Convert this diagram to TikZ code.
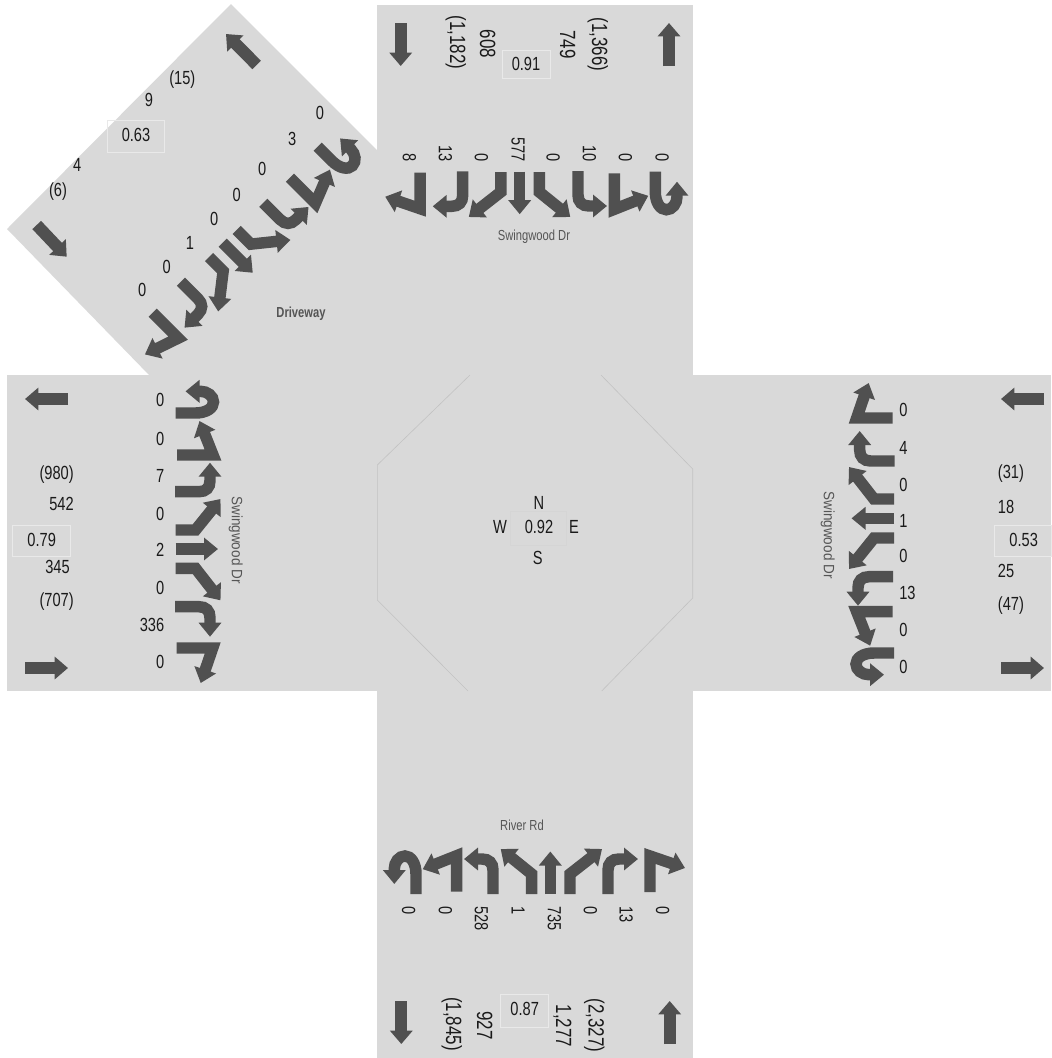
\documentclass[tikz,border=0pt]{standalone}
\usepackage{fontspec}
\setmainfont{Liberation Sans}
\newfontfamily\cond[FakeStretch=0.77]{Liberation Sans}
\newfontfamily\condlab[FakeStretch=0.9]{Liberation Sans}
\usetikzlibrary{arrows.meta}
\definecolor{legbg}{HTML}{D9D9D9}
\definecolor{arrowgray}{HTML}{505050}
\definecolor{txt}{HTML}{1A1A1A}
\definecolor{boxline}{HTML}{E9E9E9}
\definecolor{octline}{HTML}{C2C2C2}
\definecolor{streettxt}{HTML}{555555}
\tikzset{
  mv/.style={draw=arrowgray,line width=8.6pt,line join=miter,miter limit=10,
    -{Triangle[length=10.5pt,width=16.5pt]}},
  big/.style={draw=arrowgray,line width=9pt,-{Triangle[length=10pt,width=16.5pt]}},
  num/.style={inner sep=0pt,text=txt,text height=10.2pt,text depth=0pt,font=\fontsize{14.25pt}{15pt}\cond},
  lnum/.style={inner sep=0pt,text=txt,text height=11.8pt,text depth=0pt,font=\fontsize{16.5pt}{17pt}\cond},
  street/.style={inner sep=0pt,text=streettxt,font=\fontsize{10.9pt}{11pt}\cond},
  vstreet/.style={inner sep=0pt,text=streettxt,rotate=-90,font=\fontsize{11.25pt}{12pt}\condlab},
  valbox/.style={draw=boxline,line width=.6pt},
  octedge/.style={draw=octline,line width=.45pt},
  mvhardleft/.pic={\path[mv] (0,0) -- (0,36) -- (-35,24);},
  mvleft/.pic={\path[mv] (0,0) -- (0,24) .. controls (0,31) and (-4,35) .. (-11,35) -- (-30,35);},
  mvbearleft/.pic={\path[mv] (0,0) -- (0,20) -- (-32,45);},
  mvthrough/.pic={\path[mv] (0,0) -- (0,42.5);},
  mvbearright/.pic={\path[mv] (0,0) -- (0,20) -- (31,45);},
  mvright/.pic={\path[mv] (0,0) -- (0,24) .. controls (0,31) and (4,35) .. (11,35) -- (29,35);},
  mvhardright/.pic={\path[mv] (0,0) -- (0,36) -- (34,22.5);},
  mvuturn/.pic={\path[mv] (0,0) -- (0,20) .. controls (0,31) and (5,38) .. (11,38) .. controls (17,38) and (21.7,32) .. (21.7,25) -- (21.7,10);},
}
\begin{document}
\begin{tikzpicture}[x=0.75pt,y=-0.75pt]
\useasboundingbox (0,0) rectangle (1051,1058);
% legs
\fill[legbg] (377,5) rectangle (693,376);
\fill[legbg] (377,691) rectangle (693,1058);
\fill[legbg] (7,375) rectangle (378,691);
\fill[legbg] (692,375) rectangle (1051,691);
\fill[legbg] (377,375) rectangle (693,691);
\fill[legbg] (231,4) -- (378,151) -- (378,376) -- (150,376) -- (7,229) -- cycle;
% octagon
\draw[octedge] (470,375) -- (377.3,465) -- (377.3,600) -- (468,691);
\draw[octedge] (601,375) -- (692.7,469) -- (692.7,598) -- (601.7,691);
% value boxes
\node[draw=legbg!98!black,line width=.4pt,minimum width=42.5pt,minimum height=25pt,inner sep=0pt] (boxC) at (538.3,528.3) {};
\draw[valbox] (502.3,50) rectangle (550.7,78);
\draw[valbox] (500.3,994.3) rectangle (548.7,1027.3);
\draw[valbox] (12.3,525) rectangle (70.7,556);
\draw[valbox] (994.3,525) rectangle (1051,556);
\draw[valbox] (107.3,120) rectangle (164.7,152.7);
% through-traffic arrows
\draw[big] (400.7,23) -- (400.7,66);
\draw[big] (669,66) -- (669,23);
\draw[big] (401.3,1001) -- (401.3,1044);
\draw[big] (669.7,1044) -- (669.7,1001);
\draw[big] (68,399) -- (25,399);
\draw[big] (25,668) -- (68,668);
\draw[big] (1044,399) -- (1001,399);
\draw[big] (1001,668) -- (1044,668);
\draw[big] (256.7,65) -- (226,34);
\draw[big] (36.7,225) -- (66.7,256.7);
% north movements
\pic at (420.2,172.7) {mvhardleft};
\pic at (462.7,171.3) {mvleft};
\pic at (500.8,172) {mvbearleft};
\pic at (519.7,171.7) {mvthrough};
\pic at (539.3,172) {mvbearright};
\pic at (578,171) {mvright};
\pic at (614.3,173.3) {mvhardright};
\pic at (655.3,171.7) {mvuturn};
% south movements
\pic[rotate=180] at (650,892) {mvhardleft};
\pic[rotate=180] at (608,894) {mvleft};
\pic[rotate=180] at (570,894) {mvbearleft};
\pic[rotate=180] at (550.3,894) {mvthrough};
\pic[rotate=180] at (531.7,894) {mvbearright};
\pic[rotate=180] at (493,894) {mvright};
\pic[rotate=180] at (456.7,891.7) {mvhardright};
\pic[rotate=180] at (416,894) {mvuturn};
% west movements
\pic[rotate=90] at (176.7,648) {mvhardleft};
\pic[rotate=90] at (175,606.7) {mvleft};
\pic[rotate=90] at (175.5,568.3) {mvbearleft};
\pic[rotate=90] at (175.5,549) {mvthrough};
\pic[rotate=90] at (175.5,530) {mvbearright};
\pic[rotate=90] at (175,491.7) {mvright};
\pic[rotate=90] at (177,455) {mvhardright};
\pic[rotate=90] at (175.5,413) {mvuturn};
% east movements
\pic[rotate=-90] at (892.7,418) {mvhardleft};
\pic[rotate=-90] at (894.7,461) {mvleft};
\pic[rotate=-90] at (894,499) {mvbearleft};
\pic[rotate=-90] at (894,518.3) {mvthrough};
\pic[rotate=-90] at (894,538) {mvbearright};
\pic[rotate=-90] at (893,576.7) {mvright};
\pic[rotate=-90] at (892.7,611.7) {mvhardright};
\pic[rotate=-90] at (894,653) {mvuturn};
% north-west movements
\pic[rotate=45] at (152.7,312.7) {mvhardleft};
\pic[rotate=45] at (181,281.7) {mvleft};
\pic[rotate=45] at (209,257) {mvbearleft};
\pic[rotate=45] at (222.7,242.7) {mvthrough};
\pic[rotate=45] at (236.7,230) {mvbearright};
\pic[rotate=45] at (263.3,202.7) {mvright};
\pic[rotate=45] at (290,177.7) {mvhardright};
\pic[rotate=45] at (317.7,146.7) {mvuturn};
% centre
\node[num] (cN) at (539,502.3) {N};
\node[num] (cW) at (500,526.7) {W};
\node[num] (cV) at (539,526.7) {0.92};
\node[num] (cE) at (574,526.7) {E};
\node[num] (cS) at (537.7,557.7) {S};
% street names
\node[street] (sN) at (534,236.7) {Swingwood Dr};
\node[street] (sS) at (522,825) {River Rd};
\node[vstreet] (sW) at (235.7,540) {Swingwood Dr};
\node[vstreet] (sE) at (827.7,535) {Swingwood Dr};
\node[street,font=\fontsize{10.9pt}{11pt}\cond\bfseries] (sD) at (301,313.3) {Driveway};
% north numbers
\node[num,rotate=-90,anchor=east] (n1) at (409.7,162.3) {8};
\node[num,rotate=-90,anchor=east] (n2) at (445.7,162.3) {13};
\node[num,rotate=-90,anchor=east] (n3) at (481.7,162.3) {0};
\node[num,rotate=-90,anchor=east] (n4) at (518.3,162.3) {577};
\node[num,rotate=-90,anchor=east] (n5) at (553.3,162.3) {0};
\node[num,rotate=-90,anchor=east] (n6) at (589.7,162.3) {10};
\node[num,rotate=-90,anchor=east] (n7) at (625.7,162.3) {0};
\node[num,rotate=-90,anchor=east] (n8) at (662.3,162.3) {0};
\node[lnum,rotate=-90] (nt1) at (458,42.5) {(1,182)};
\node[lnum,rotate=-90] (nt2) at (488,44) {608};
\node[num] (nt3) at (526,64) {0.91};
\node[lnum,rotate=-90] (nt4) at (568,44.5) {749};
\node[lnum,rotate=-90] (nt5) at (600,44.5) {(1,366)};
% south numbers
\node[num,rotate=-90,anchor=west] (s1) at (409,906) {0};
\node[num,rotate=-90,anchor=west] (s2) at (445.7,906) {0};
\node[num,rotate=-90,anchor=west] (s3) at (481.7,906) {528};
\node[num,rotate=-90,anchor=west] (s4) at (518.3,906) {1};
\node[num,rotate=-90,anchor=west] (s5) at (554.7,906) {735};
\node[num,rotate=-90,anchor=west] (s6) at (590.7,906) {0};
\node[num,rotate=-90,anchor=west] (s7) at (626.3,906) {13};
\node[num,rotate=-90,anchor=west] (s8) at (663,906) {0};
\node[lnum,rotate=-90] (st1) at (454,1024) {(1,845)};
\node[lnum,rotate=-90] (st2) at (485,1025.5) {927};
\node[num] (st3) at (524.7,1009) {0.87};
\node[lnum,rotate=-90] (st4) at (564,1026) {1,277};
\node[lnum,rotate=-90] (st5) at (596.5,1025.6) {(2,327)};
% west numbers
\node[num,anchor=east] (w1) at (164.5,400) {0};
\node[num,anchor=east] (w2) at (164.5,438.3) {0};
\node[num,anchor=east] (w3) at (164.5,475.7) {7};
\node[num,anchor=east] (w4) at (164.5,513.3) {0};
\node[num,anchor=east] (w5) at (164.5,550) {2};
\node[num,anchor=east] (w6) at (164.5,587.3) {0};
\node[num,anchor=east] (w7) at (164.5,624.3) {336};
\node[num,anchor=east] (w8) at (164.5,661.7) {0};
\node[num,anchor=east] (wt1) at (74,472.7) {(980)};
\node[num,anchor=east] (wt2) at (74,503.3) {542};
\node[num] (wt3) at (41.7,539.3) {0.79};
\node[num,anchor=east] (wt4) at (70,566.7) {345};
\node[num,anchor=east] (wt5) at (74,600) {(707)};
% east numbers
\node[num,anchor=west] (e1) at (899,410) {0};
\node[num,anchor=west] (e2) at (899,447.7) {4};
\node[num,anchor=west] (e3) at (899,484.3) {0};
\node[num,anchor=west] (e4) at (899,520.7) {1};
\node[num,anchor=west] (e5) at (899,555.7) {0};
\node[num,anchor=west] (e6) at (899,592.7) {13};
\node[num,anchor=west] (e7) at (899,630) {0};
\node[num,anchor=west] (e8) at (899,666.7) {0};
\node[num,anchor=west] (et1) at (997.7,471.7) {(31)};
\node[num,anchor=west] (et2) at (997.7,506.7) {18};
\node[num] (et3) at (1023.7,539.3) {0.53};
\node[num,anchor=west] (et4) at (997.7,570.7) {25};
\node[num,anchor=west] (et5) at (997.7,603.3) {(47)};
% north-west numbers
\node[num] (d1) at (142.3,290) {0};
\node[num] (d2) at (166.7,266.7) {0};
\node[num] (d3) at (190,242.7) {1};
\node[num] (d4) at (214.3,218.3) {0};
\node[num] (d5) at (236.7,195) {0};
\node[num] (d6) at (262.3,168.3) {0};
\node[num] (d7) at (292.3,138.3) {3};
\node[num] (d8) at (320,112.7) {0};
\node[num] (dt1) at (58,190) {(6)};
\node[num] (dt2) at (77.3,164.3) {4};
\node[num] (dt3) at (136,135) {0.63};
\node[num] (dt4) at (149,100) {9};
\node[num] (dt5) at (182.3,77.3) {(15)};
\end{tikzpicture}
\end{document}
